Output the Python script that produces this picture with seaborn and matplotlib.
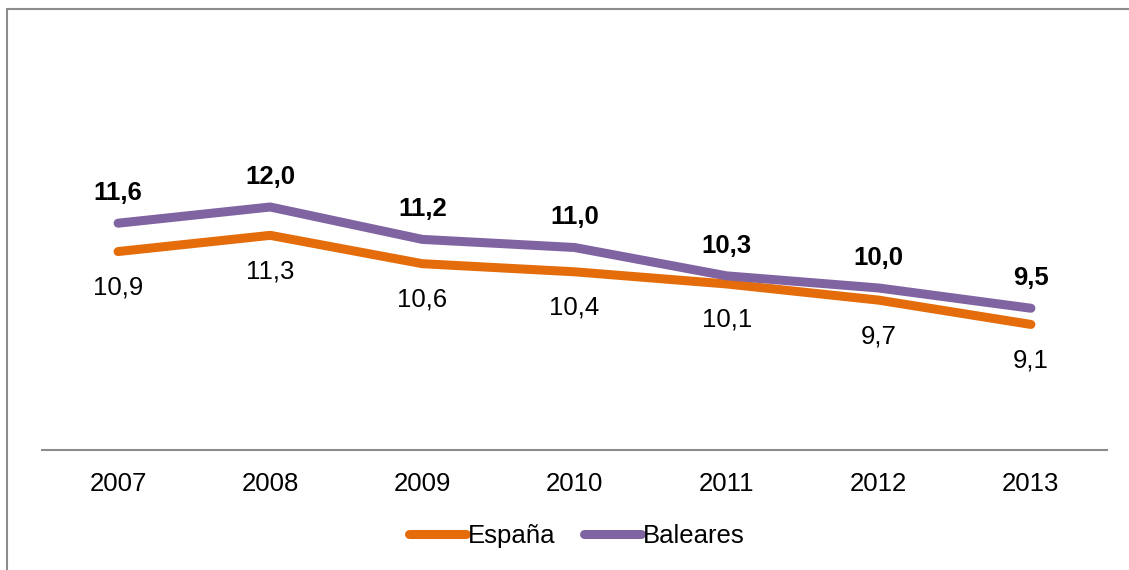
import pandas as pd
import seaborn as sns
import matplotlib.pyplot as plt
from matplotlib.lines import Line2D

years = ['2007', '2008', '2009', '2010', '2011', '2012', '2013']
espana = [10.9, 11.3, 10.6, 10.4, 10.1, 9.7, 9.1]
baleares = [11.6, 12.0, 11.2, 11.0, 10.3, 10.0, 9.5]

orange = '#E46C0A'
purple = '#8064A2'

df = pd.DataFrame({'year': years * 2,
                   'value': espana + baleares,
                   'serie': ['España'] * len(years) + ['Baleares'] * len(years)})

sns.set_style('white')
plt.rcParams['font.family'] = ['Liberation Sans', 'DejaVu Sans']
plt.rcParams['text.color'] = 'black'
plt.rcParams['xtick.color'] = 'black'

W, H = 1129, 570
fig = plt.figure(figsize=(W / 100, H / 100), dpi=100)
ax = fig.add_axes([42 / W, (H - 450) / H, (1107 - 42) / W, (450 - 30) / H])

sns.lineplot(data=df, x='year', y='value', hue='serie',
             palette={'España': orange, 'Baleares': purple},
             linewidth=6.5, solid_capstyle='round', legend=False, ax=ax)

ax.set_xlim(-0.5, len(years) - 0.5)
ax.set_ylim(6, 6 + 420 / 40.5)
ax.set_xlabel('')
ax.set_ylabel('')
ax.set_yticks([])
ax.set_xticks(range(len(years)))
ax.set_xticklabels(years, fontsize=18.5)
ax.tick_params(axis='x', length=0, pad=16)
for s in ['top', 'right', 'left']:
    ax.spines[s].set_visible(False)
ax.spines['bottom'].set_color('#8c8c8c')
ax.spines['bottom'].set_linewidth(1.5)

fmt = lambda v: f'{v:.1f}'.replace('.', ',')
for i, (e, b) in enumerate(zip(espana, baleares)):
    ax.annotate(fmt(b), (i, b), xytext=(0, 30), textcoords='offset pixels',
                ha='center', va='center', fontsize=18.5, fontweight='bold')
    ax.annotate(fmt(e), (i, e), xytext=(0, -36), textcoords='offset pixels',
                ha='center', va='center', fontsize=18.5)

handles = [Line2D([], [], color=orange, lw=6.5, solid_capstyle='round'),
           Line2D([], [], color=purple, lw=6.5, solid_capstyle='round')]
fig.legend(handles, ['España', 'Baleares'], loc='center',
           bbox_to_anchor=(577 / W, (H - 536) / H), ncol=2, frameon=False,
           fontsize=18.5, handlelength=2.2, handletextpad=0.1, columnspacing=1.1)

# outer frame (left and top edges)
fig.add_artist(Line2D([7 / W, 7 / W], [0, 1 - 9 / H], transform=fig.transFigure,
                      color='#8c8c8c', lw=1.5))
fig.add_artist(Line2D([7 / W, 1], [1 - 9 / H, 1 - 9 / H], transform=fig.transFigure,
                      color='#8c8c8c', lw=1.5))

fig.savefig('out.png', dpi=100)
